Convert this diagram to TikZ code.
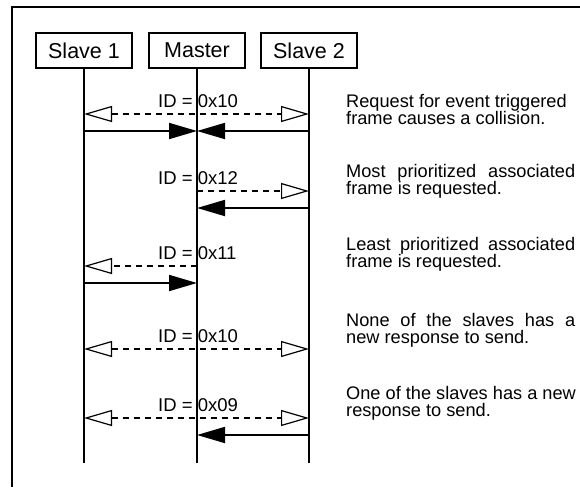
\documentclass[tikz,border=0pt]{standalone}
\usepackage{fontspec}
\setmainfont{Liberation Sans}
\usetikzlibrary{arrows.meta}
\begin{document}
\begin{tikzpicture}[x=1pt,y=-1pt,
  actor/.style={draw, line width=1.8pt, minimum width=96pt, minimum height=35pt, inner sep=0pt, font=\fontsize{21.5}{24}\selectfont},
  life/.style={line width=1.8pt},
  req/.style={line width=1.6pt, dash pattern=on 6pt off 5pt},
  resp/.style={line width=1.8pt, -{Triangle[length=28pt,width=16pt]}},
  otip/.tip={Triangle[open,length=28pt,width=16pt,line width=1.2pt]},
  idlbl/.style={anchor=base west, inner sep=0pt, font=\fontsize{18.5}{20}\selectfont},
  note/.style={anchor=north west, inner sep=0pt, align=left, font=\fontsize{18.2}{17}\selectfont},
]
\useasboundingbox (0,0) rectangle (580,487);
\draw[line width=1.8pt] (12,487) -- (12,7) -- (580,7);

% actors
\node[actor] (s1) at (84,50.5) {Slave 1};
\node[actor] (ma) at (197,50.5) {Master};
\node[actor] (s2) at (309,50.5) {Slave 2};
\coordinate (s1end) at (84,463);
\coordinate (maend) at (197,463);
\coordinate (s2end) at (309,463);
\draw[life] (s1) -- (s1end);
\draw[life] (ma) -- (maend);
\draw[life] (s2) -- (s2end);

% message 1
\coordinate (s1a) at (84,114); \coordinate (maa) at (197,114); \coordinate (s2a) at (309,114);
\coordinate (s1A) at (84,131); \coordinate (maA) at (197,131); \coordinate (s2A) at (309,131);
\draw[req, otip-otip] (s1a) -- (s2a);
\draw[resp] (s1A) -- (maA);
\draw[resp] (s2A) -- (maA);
\node[idlbl] (id1) at (158,107) {ID = 0x10};

% message 2
\coordinate (mab) at (197,191); \coordinate (s2b) at (309,191);
\coordinate (maB) at (197,208); \coordinate (s2B) at (309,208);
\draw[req, -otip] (mab) -- (s2b);
\draw[resp] (s2B) -- (maB);
\node[idlbl] (id2) at (158,184) {ID = 0x12};

% message 3
\coordinate (s1c) at (84,266); \coordinate (mac) at (197,266);
\coordinate (s1C) at (84,283); \coordinate (maC) at (197,283);
\draw[req, -otip] (mac) -- (s1c);
\draw[resp] (s1C) -- (maC);
\node[idlbl] (id3) at (158,259) {ID = 0x11};

% message 4
\coordinate (s1d) at (84,349); \coordinate (s2d) at (309,349);
\draw[req, otip-otip] (s1d) -- (s2d);
\node[idlbl] (id4) at (158,342) {ID = 0x10};

% message 5
\coordinate (s1e) at (84,418); \coordinate (s2e) at (309,418);
\coordinate (maE) at (197,435); \coordinate (s2E) at (309,435);
\draw[req, otip-otip] (s1e) -- (s2e);
\draw[resp] (s2E) -- (maE);
\node[idlbl] (id5) at (158,411) {ID = 0x09};

% notes
\node[note] (n1) at (346,94) {Request for event triggered\\frame causes a collision.};
\node[note] (n2) at (346,164) {\makebox[229pt][s]{Most prioritized associated}\\frame is requested.};
\node[note] (n3) at (346,237) {\makebox[229pt][s]{Least prioritized associated}\\frame is requested.};
\node[note] (n4) at (346,313) {\makebox[229pt][s]{None of the slaves has a}\\new response to send.};
\node[note] (n5) at (346,386) {One of the slaves has a new\\response to send.};
\end{tikzpicture}
\end{document}
